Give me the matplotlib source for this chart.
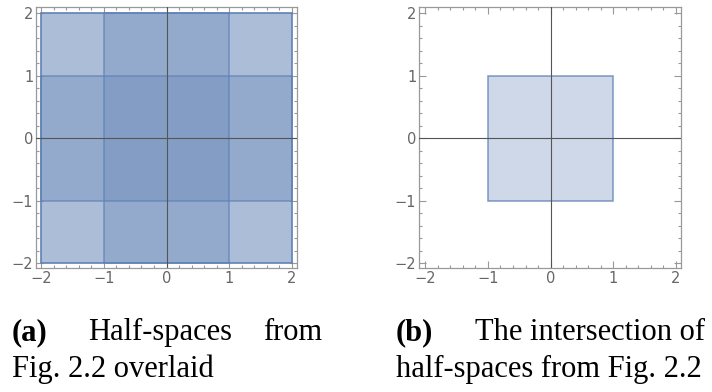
import numpy as np
import matplotlib
matplotlib.use('Agg')
from matplotlib import pyplot as plt
from matplotlib.patches import Rectangle

# half-spaces clipped to the plot window [-2,2]
hs_x0 = [-2, -1, -2, -2]
hs_x1 = [1, 2, 2, 2]
hs_y0 = [-2, -2, -2, -1]
hs_y1 = [2, 2, 1, 2]

# intersection of the half-spaces
sq_x0, sq_x1 = -1, 1
sq_y0, sq_y1 = -1, 1

major = [-2, -1, 0, 1, 2]
minor = np.arange(-2.0, 2.01, 0.2)

blue = (0.368, 0.507, 0.710)
grey = '#666666'

fig = plt.figure(figsize=(7.12, 3.92), dpi=100)
ax1 = fig.add_axes([36/712, 124/392, 261/712, 261/392])
ax2 = fig.add_axes([419/712, 124/392, 262/712, 261/392])


def style(ax, xlim, ylim):
    ax.set_xlim(*xlim)
    ax.set_ylim(*ylim)
    ax.set_xticks(major)
    ax.set_yticks(major)
    ax.set_xticks(minor, minor=True)
    ax.set_yticks(minor, minor=True)
    ax.set_xticklabels(['\u22122', '\u22121', '0', '1', '2'])
    ax.set_yticklabels(['\u22122', '\u22121', '0', '1', '2'])
    ax.tick_params(which='both', direction='in', top=True, right=True,
                   color='#999999', width=0.8, labelsize=10.5,
                   labelcolor=grey, pad=2)
    ax.tick_params(which='major', length=5)
    ax.tick_params(which='minor', length=2.5)
    for s in ax.spines.values():
        s.set_color('#999999')
        s.set_linewidth(0.9)
    ax.axhline(0, color='#555555', lw=0.8, zorder=3)
    ax.axvline(0, color='#555555', lw=0.8, zorder=3)


for x0, x1, y0, y1 in zip(hs_x0, hs_x1, hs_y0, hs_y1):
    ax1.add_patch(Rectangle((x0, y0), x1 - x0, y1 - y0,
                            facecolor=blue + (0.3,), edgecolor=blue + (0.75,),
                            lw=1.1, zorder=2))
style(ax1, (-2.08, 2.08), (-2.08, 2.1))

ax2.add_patch(Rectangle((sq_x0, sq_y0), sq_x1 - sq_x0, sq_y1 - sq_y0,
                        facecolor=blue + (0.3,), edgecolor=blue + (0.8,),
                        lw=1.1, zorder=2))
style(ax2, (-2.1, 2.08), (-2.08, 2.1))

# captions
serif = 'Liberation Serif'
fs = 22
y1 = 1 - 340/392
y2 = 1 - 377/392
fig.text(12/712, y1, '(a)', fontfamily=serif, fontweight='bold', fontsize=fs, va='baseline')
fig.text(88/712, y1, 'Half-spaces', fontfamily=serif, fontsize=fs, va='baseline')
fig.text(322/712, y1, 'from', fontfamily=serif, fontsize=fs, va='baseline', ha='right')
fig.text(12/712, y2, 'Fig. 2.2 overlaid', fontfamily=serif, fontsize=fs, va='baseline')

fig.text(396/712, y1, '(b)', fontfamily=serif, fontweight='bold', fontsize=fs, va='baseline')
fig.text(705/712, y1, 'The intersection of', fontfamily=serif, fontsize=fs, va='baseline', ha='right')
fig.text(396/712, y2, 'half-spaces from Fig. 2.2', fontfamily=serif, fontsize=fs, va='baseline')

fig.savefig('out.png', dpi=100)
